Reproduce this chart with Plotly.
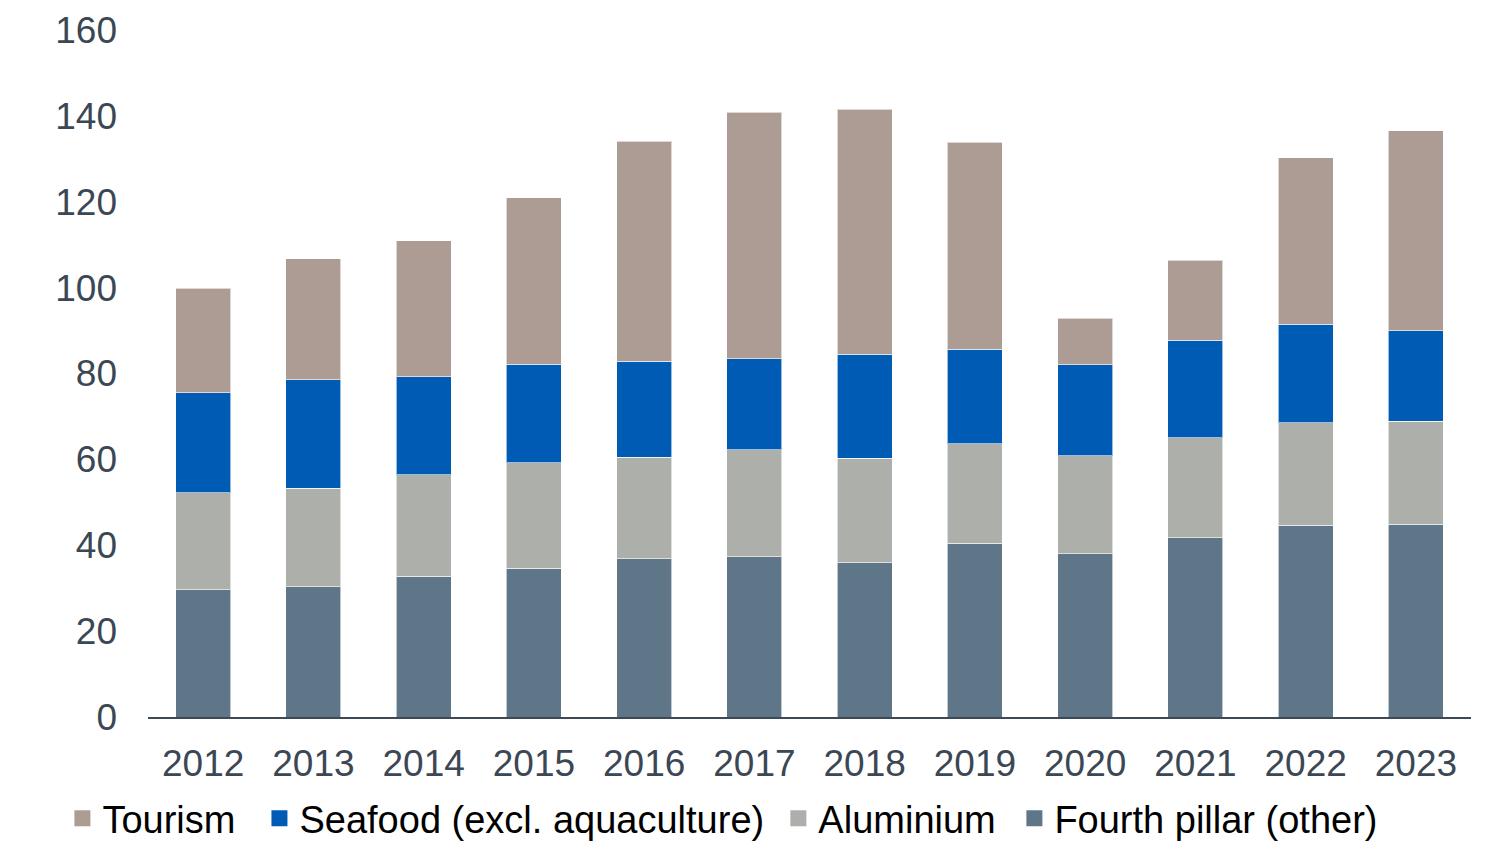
import plotly.graph_objects as go

years = ["2012", "2013", "2014", "2015", "2016", "2017", "2018", "2019", "2020", "2021", "2022", "2023"]
fourth_pillar = [29.6, 30.3, 32.8, 34.7, 36.8, 37.3, 35.9, 40.5, 38.0, 41.7, 44.7, 44.9]
aluminium = [22.6, 23.0, 23.6, 24.5, 23.7, 24.9, 24.4, 23.1, 22.8, 23.3, 23.8, 24.0]
seafood = [23.3, 25.2, 22.8, 23.0, 22.4, 21.2, 24.2, 22.1, 21.2, 22.8, 23.0, 21.0]
tourism = [24.4, 28.2, 31.7, 38.7, 51.2, 57.5, 57.1, 48.2, 10.9, 18.6, 38.7, 46.6]

series = [
    ("Fourth pillar (other)", fourth_pillar, "#5F7689"),
    ("Aluminium", aluminium, "#ADAFAA"),
    ("Seafood (excl. aquaculture)", seafood, "#005BB5"),
    ("Tourism", tourism, "#AC9C93"),
]
# one legend per entry so the entries sit where the reference puts them
legend_ids = ["legend4", "legend3", "legend2", "legend"]
legend_x = [0.6656, 0.5095, 0.1663, 0.0360]

fig = go.Figure()
for name, vals, color in series:
    fig.add_trace(go.Bar(
        x=years, y=vals, name=name, showlegend=False,
        marker=dict(color=color, line=dict(color="rgba(255,255,255,0.6)", width=1)),
    ))
# legend entries with larger square swatches
for (name, vals, color), lid in zip(series, legend_ids):
    fig.add_trace(go.Scatter(
        x=[None], y=[None], mode="markers", name=name, legend=lid,
        marker=dict(symbol="square", size=18, color=color),
    ))

font_family = "Liberation Sans, Arial, sans-serif"
legend_common = dict(
    orientation="h", xanchor="left", xref="container",
    y=0.0, yanchor="bottom", yref="container",
    font=dict(size=38, color="#000000", family=font_family),
    itemwidth=30, bgcolor="rgba(0,0,0,0)",
)
legends = {lid: dict(legend_common, x=lx) for lid, lx in zip(legend_ids, legend_x)}

fig.update_layout(
    barmode="stack",
    bargap=0.5,
    width=1512, height=842,
    margin=dict(l=140, r=49, t=22, b=133, autoexpand=False),
    plot_bgcolor="white", paper_bgcolor="white",
    font=dict(family=font_family, size=37, color="#3B4754"),
    showlegend=True,
    xaxis=dict(
        showgrid=False, showline=True, linecolor="#3D4A55", linewidth=2,
        ticks="", ticklabelstandoff=13,
        tickfont=dict(size=37, color="#3B4754"),
    ),
    yaxis=dict(
        range=[0, 160], dtick=20, showgrid=False, showline=False, zeroline=False,
        ticks="", ticklabelstandoff=30,
        tickfont=dict(size=37, color="#3B4754"),
    ),
    **legends,
)

fig.write_html("out.html")
